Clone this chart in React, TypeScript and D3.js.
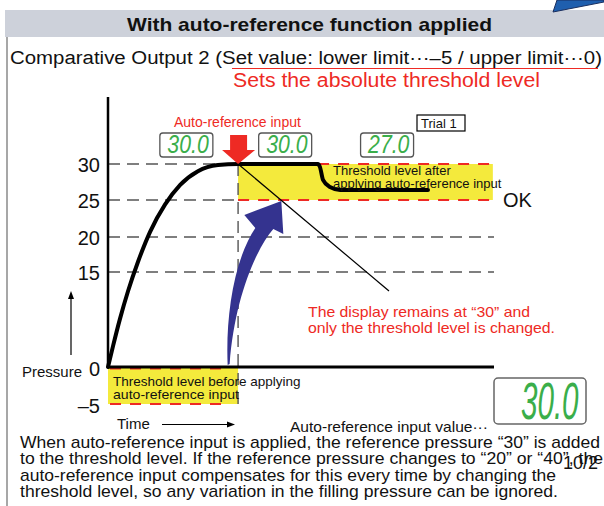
import React from 'react';
import * as d3 from 'd3';

const W = 604;
const H = 506;
const FONT = '"Liberation Sans", Arial, sans-serif';
const RED = '#ee2a24';
const YELLOW = '#f4ea3c';
const GREEN = '#3aae4a';
const NAVY = '#34338f';

// pressure axis labels
const pressureTicks = [30, 25, 20, 15, 0, -5];
const gridFull = [20, 15];
const gridShort = [30, 25];

// pressure curve (time in arbitrary units 0..100, pressure as drawn)
const curveTime = [0, 1.3, 3.1, 5.2, 7.8, 10.9, 14.8, 18.7, 23.3, 28.5, 33.7, 54.4, 54.9, 55.7, 57.5, 60.1, 82.9];
const curvePressure = [0, 3.3, 7.6, 12.0, 16.5, 20.7, 24.4, 27.1, 29.0, 29.85, 30, 30, 29.6, 27.8, 26.8, 26.4, 26.4];

// auto-reference input moment and threshold bands
const refTime = 33.7;
const endTime = 100;
const bandBefore = [-5, 0];
const bandAfter = [25, 30];

// LCD readings along the curve
const displayTime = [20.3, 45.9, 72.3];
const displayText = ['30.0', '30.0', '27.0'];

// leader line end (time, pressure)
const leaderEnd = [72.8, 12];

const bottomLines = [
  'When auto-reference input is applied, the reference pressure \u201c30\u201d is added',
  'to the threshold level. If the reference pressure changes to \u201c20\u201d or \u201c40\u201d, the',
  'auto-reference input compensates for this every time by changing the',
  'threshold level, so any variation in the filling pressure can be ignored.',
];
const bottomWidths = [580, 583, 536, 538];

export default function App() {
  const x = d3.scaleLinear().domain([0, endTime]).range([108, 494]);
  // the drawing is schematic: spacing between ticks is not uniform
  const y = d3.scaleLinear().domain([-5, 0, 15, 20, 25, 30]).range([404, 367, 272, 237, 200, 164]);

  const line = d3.line<number>()
    .x((d, i) => x(curveTime[i]))
    .y(d => y(d))
    .curve(d3.curveMonotoneX);

  const x0 = x(0);
  const xr = x(refTime);
  const xEnd = x(endTime);

  // blue curved arrow, from the 0 level up to the new threshold
  const tx = x(44.9), ty = y(25) + 1;
  const sx = x(31), sy = y(0) - 2;
  const blue = `M${sx},${sy}
    C${sx - 2},${sy - 45} ${sx + 5},${sy - 103} ${tx - 26},${ty + 27}
    L${tx - 37},${ty + 14} L${tx},${ty} L${tx + 2},${ty + 33} L${tx - 8},${ty + 28}
    C${tx - 26},${ty + 49} ${tx - 47},${ty + 99} ${sx + 2},${sy - 1} Z`;

  // red down arrow at the auto-reference input
  const ay = y(30);
  const red = `M${xr - 8},${ay - 29} L${xr + 9},${ay - 29} L${xr + 9},${ay - 14} L${xr + 17},${ay - 14}
    L${xr},${ay} L${xr - 16},${ay - 14} L${xr - 8},${ay - 14} Z`;

  return (
    <svg width={W} height={H} style={{ position: 'absolute', left: 0, top: 0, background: '#fff' }} fontFamily={FONT}>
      {/* header */}
      <rect x={5} y={10} width={599} height={27} fill="#cdd1da" />
      <path d="M553,12 L557,0 L604,0 L604,2 Z" fill="#1f5fae" stroke="#1b2f5e" strokeWidth={1} />
      <line x1={7} x2={7} y1={37} y2={H} stroke="#8a8a8a" strokeWidth={1.5} />
      <text x={127} y={31} fontSize={19} fontWeight="bold" fill="#111" textLength={365} lengthAdjust="spacingAndGlyphs">
        With auto-reference function applied
      </text>
      <text x={10} y={64} fontSize={18} textLength={592} lengthAdjust="spacingAndGlyphs" fill="#111">
        Comparative Output 2 (Set value: lower limit{'\u00b7\u00b7\u00b7'}{'\u2013'}5 / upper limit{'\u00b7\u00b7\u00b7'}0)
      </text>
      <line x1={232} x2={598} y1={68.5} y2={68.5} stroke={RED} strokeWidth={1} />
      <text x={233} y={87} fontSize={19.5} fill={RED} textLength={307} lengthAdjust="spacingAndGlyphs">
        Sets the absolute threshold level
      </text>

      {/* threshold bands */}
      <rect x={xr} y={y(bandAfter[1])} width={x(99.7) - xr} height={y(bandAfter[0]) - y(bandAfter[1])} fill={YELLOW} />
      <rect x={x0} y={y(bandBefore[1])} width={xr - x0} height={y(bandBefore[0]) - y(bandBefore[1])} fill={YELLOW} />

      {/* grid */}
      <g stroke="#555" strokeWidth={1.4} strokeDasharray="12 7">
        {gridShort.map(v => <line key={v} x1={x0} x2={xr} y1={y(v)} y2={y(v)} />)}
        {gridFull.map(v => <line key={v} x1={x0} x2={xEnd} y1={y(v)} y2={y(v)} />)}
        <line x1={xr} x2={xr} y1={y(30)} y2={y(-5)} />
      </g>
      <g stroke={RED} strokeWidth={2.2} strokeDasharray="11 9">
        {bandAfter.map(v => <line key={v} x1={xr} x2={x(99.7)} y1={y(v)} y2={y(v)} />)}
        <line x1={x0 + 2} x2={x(31.5)} y1={y(0) + 1.5} y2={y(0) + 1.5} />
        <line x1={x0 + 2} x2={x(31.5)} y1={y(-5)} y2={y(-5)} />
      </g>

      {/* axes */}
      <line x1={x0} x2={x0} y1={y(39.3)} y2={y(0)} stroke="#000" strokeWidth={2.5} />
      <line x1={x0} x2={xEnd} y1={y(0)} y2={y(0)} stroke="#000" strokeWidth={3} />
      {pressureTicks.map(v => (
        <text key={v} x={100} y={y(v) + (v <= 0 ? 9 : 7.5)} textAnchor="end" fontSize={20} fill="#111">
          {v < 0 ? '\u2013' + Math.abs(v) : v}
        </text>
      ))}
      <text x={22} y={377} fontSize={15} fill="#111">Pressure</text>
      <line x1={71} x2={71} y1={355} y2={296} stroke="#000" strokeWidth={1.2} />
      <path d="M71,291 L68,299 L74,299 Z" fill="#000" />
      <text x={117} y={429} fontSize={15} fill="#111">Time</text>
      <line x1={162} x2={228} y1={424.5} y2={424.5} stroke="#000" strokeWidth={1.2} />
      <path d="M235,424.5 L227,421.5 L227,427.5 Z" fill="#000" />

      {/* pressure curve and annotations */}
      <path d={line(curvePressure) ?? ''} fill="none" stroke="#000" strokeWidth={4} strokeLinecap="round" />
      <line x1={xr} y1={y(30)} x2={x(leaderEnd[0])} y2={y(leaderEnd[1])} stroke="#000" strokeWidth={1.2} />
      <path d={blue} fill={NAVY} />
      <path d={red} fill={RED} />

      <text x={174} y={127} fontSize={14} fill={RED}>Auto-reference input</text>
      <rect x={417} y={115} width={48} height={16} fill="#fff" stroke="#000" strokeWidth={1.2} />
      <text x={421} y={128} fontSize={13} fill="#111">Trial 1</text>

      {displayTime.map((t, i) => (
        <g key={i}>
          <rect x={x(t) - 26.5} y={133} width={53} height={24} rx={3} fill="#fff" stroke="#555" strokeWidth={1.3} />
          <text transform={`translate(${x(t) - 19},153) scale(0.85,1)`} fontSize={25} fontStyle="italic" fill={GREEN}>
            {displayText[i]}
          </text>
        </g>
      ))}

      <text x={333} y={175} fontSize={13} fill="#111">Threshold level after</text>
      <text x={333} y={187.5} fontSize={13} fill="#111">applying auto-reference input</text>
      <text x={503} y={207} fontSize={20} fill="#111">OK</text>

      <text x={308} y={317} fontSize={14.5} fill={RED} textLength={222} lengthAdjust="spacingAndGlyphs">
        The display remains at {'\u201c'}30{'\u201d'} and
      </text>
      <text x={308} y={333} fontSize={14.5} fill={RED} textLength={247} lengthAdjust="spacingAndGlyphs">
        only the threshold level is changed.
      </text>

      <text x={113} y={385.5} fontSize={13.5} fill="#111">Threshold level before applying</text>
      <text x={113} y={398.5} fontSize={13.5} fill="#111" textLength={126} lengthAdjust="spacingAndGlyphs">auto-reference input</text>

      <text x={290} y={432} fontSize={15} fill="#111" textLength={198} lengthAdjust="spacingAndGlyphs">
        Auto-reference input value{'\u00b7\u00b7\u00b7'}
      </text>
      <rect x={494} y={378} width={92} height={46} rx={4} fill="#fff" stroke="#666" strokeWidth={1.5} />
      <text transform="translate(521,419) scale(0.58,1)" fontSize={51} fontStyle="italic" fill={GREEN}>
        30.0
      </text>

      {/* explanation */}
      {bottomLines.map((s, i) => (
        <text key={i} x={20} y={448 + i * 16.4} fontSize={17} fill="#111"
          textLength={bottomWidths[i]} lengthAdjust="spacingAndGlyphs">{s}</text>
      ))}
      <text x={563} y={469} fontSize={18} fill="#111">10/2</text>
    </svg>
  );
}
